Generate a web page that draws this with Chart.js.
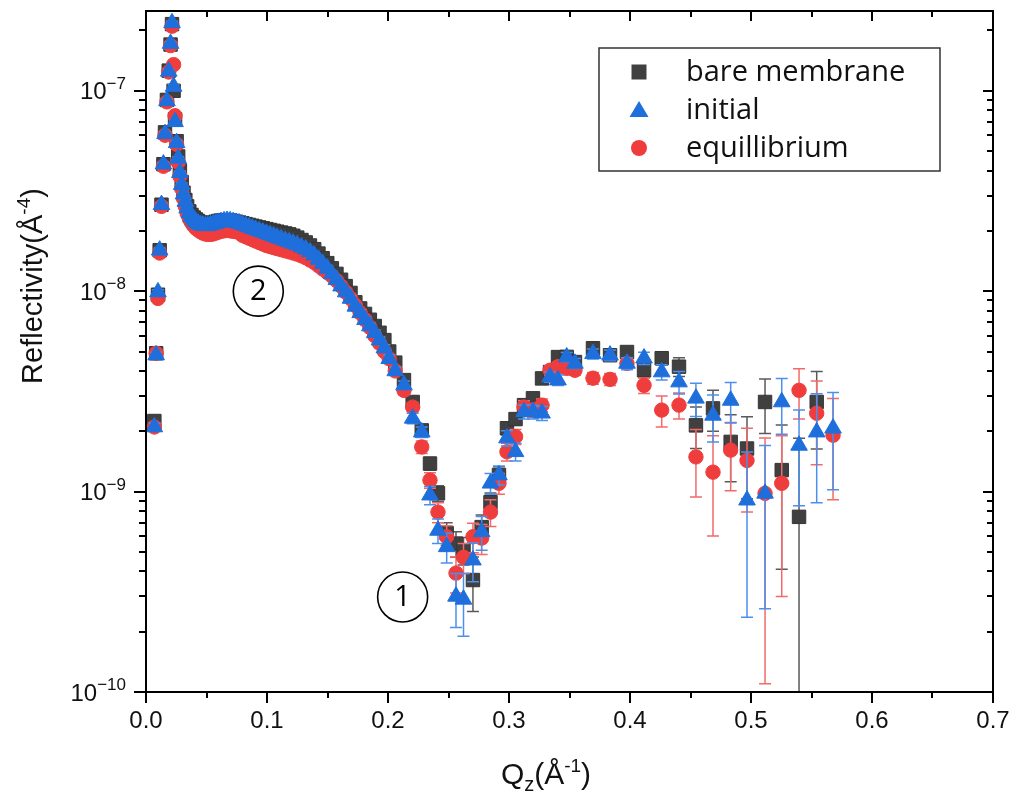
<!DOCTYPE html>
<html>
<head>
<meta charset="utf-8">
<title>Reflectivity</title>
<script src="https://cdn.jsdelivr.net/npm/chart.js@4/dist/chart.umd.min.js"></script>
<style>
  html, body { margin: 0; padding: 0; background: #ffffff; }
  #wrap { width: 1017px; height: 795px; }
</style>
</head>
<body>
<div id="wrap"><canvas id="chart" width="1017" height="795"></canvas></div>
<script>
// Momentum transfer Qz (Å^-1), shared by all three measurements
const qValues = [
  0.0069, 0.0084, 0.0099, 0.0113, 0.0128, 0.0144, 0.0157, 0.0173, 0.0188, 0.0203, 0.0215,
  0.0228, 0.0240, 0.0253, 0.0266, 0.0280, 0.0295, 0.0310, 0.0325, 0.0340,
  0.0358, 0.0376, 0.0394, 0.0412, 0.0430, 0.0450, 0.0470, 0.0490, 0.0510, 0.0532,
  0.0554, 0.0576, 0.0598, 0.0620, 0.0645, 0.0670, 0.0695, 0.0720, 0.0745, 0.0770,
  0.0797, 0.0824, 0.0851, 0.0878, 0.0905, 0.0935, 0.0965, 0.0995, 0.1025, 0.1055,
  0.1085, 0.1118, 0.1151, 0.1184, 0.1217, 0.1250,
  0.1285, 0.1320, 0.1355, 0.1390, 0.1425, 0.1460, 0.1498, 0.1536, 0.1574, 0.1612, 0.1650,
  0.1690, 0.1730, 0.1770, 0.1810, 0.1850, 0.1890, 0.1930, 0.1970, 0.2010, 0.2060,
  0.2132, 0.2204, 0.2279, 0.2347, 0.2413, 0.2485, 0.2562, 0.2624, 0.2702, 0.2774,
  0.2847, 0.2917, 0.2983, 0.3054, 0.3124, 0.3198, 0.3273, 0.3339, 0.3405, 0.3477, 0.3545,
  0.3694, 0.3835, 0.3975, 0.4116, 0.4262, 0.4405, 0.4545, 0.4686, 0.4832, 0.4967,
  0.5116, 0.5254, 0.5397, 0.5543, 0.5678
];

// Reflectivity and its uncertainty, in units of 1e-9 Å^-4
const bareMembrane = [
  2.25, 4.9, 9.6, 16, 27, 43, 62, 90, 126, 170, 215,
  100, 72, 56, 47, 40, 35, 31, 28.5, 26.5,
  25, 24, 23.3, 22.8, 22.4, 22.0, 21.8, 21.7, 21.7, 21.8,
  22.0, 22.2, 22.4, 22.5, 22.6, 22.6, 22.5, 22.4, 22.2, 22.0,
  21.8, 21.6, 21.4, 21.2, 21.0, 20.8, 20.6, 20.4, 20.2, 20.0,
  19.8, 19.6, 19.4, 19.2, 18.9, 18.5,
  18.0, 17.5, 16.9, 16.2, 15.4, 14.6, 13.8, 13.0, 12.2, 11.4, 10.6,
  9.8, 8.8, 8.2, 7.7, 7.2, 6.7, 6.2, 5.7, 5.0, 4.4,
  3.6, 2.8, 2.02, 1.38, 0.98, 0.62, 0.55, 0.51, 0.362, 0.665,
  0.885, 1.21, 2.07, 2.3, 2.7, 2.92, 3.67, 3.95, 4.69, 4.7, 4.43,
  5.19, 4.79, 4.97, 4.03, 4.63, 4.2, 2.14, 2.6, 1.77, 1.64,
  2.8, 1.28, 0.748, 2.8, null
];
const bareMembraneErr = [
  0.1, 0.15, 0.25, 0.4, 0.6, 0.9, 1.2, 1.8, 2.5, 3.4, 4.3,
  2.0, 1.5, 1.1, 0.9, 0.8, 0.7, 0.6, 0.6, 0.5,
  0.5, 0.5, 0.5, 0.5, 0.5, 0.5, 0.5, 0.5, 0.5, 0.5,
  0.5, 0.5, 0.5, 0.5, 0.5, 0.5, 0.5, 0.5, 0.5, 0.5,
  0.45, 0.45, 0.45, 0.45, 0.45, 0.45, 0.45, 0.45, 0.45, 0.45,
  0.45, 0.45, 0.45, 0.45, 0.45, 0.45,
  0.45, 0.45, 0.4, 0.4, 0.4, 0.35, 0.35, 0.35, 0.3, 0.3, 0.3,
  0.3, 0.25, 0.25, 0.25, 0.2, 0.2, 0.2, 0.2, 0.2, 0.18,
  0.16, 0.14, 0.12, 0.1, 0.09, 0.08, 0.08, 0.08, 0.11, 0.1,
  0.1, 0.12, 0.15, 0.15, 0.18, 0.18, 0.2, 0.22, 0.25, 0.25, 0.25,
  0.3, 0.3, 0.3, 0.32, 0.35, 0.45, 0.5, 0.6, 0.65, 0.72,
  0.85, 0.87, 1.1, 1.17, null
];

const initialState = [
  2.1, 4.8, 9.9, 16, 27, 43, 61, 89, 125, 172, 218,
  105, 70, 55, 46, 39, 34, 30.5, 28, 26,
  24.5, 23.5, 22.8, 22.2, 21.8, 21.5, 21.3, 21.2, 21.2, 21.4,
  21.6, 21.8, 22.0, 22.2, 22.4, 22.5, 22.4, 22.2, 22.0, 21.8,
  21.5, 21.2, 20.9, 20.6, 20.3, 20.0, 19.7, 19.4, 19.1, 18.8,
  18.5, 18.2, 17.9, 17.6, 17.3, 17.0,
  16.6, 16.2, 15.7, 15.1, 14.4, 13.7, 13.0, 12.2, 11.4, 10.6, 9.9,
  9.2, 8.4, 7.8, 7.2, 6.7, 6.2, 5.7, 5.2, 4.6, 4.0,
  3.4, 2.32, 1.98, 0.96, 0.64, 0.53, 0.30, 0.29, 0.455, 0.63,
  1.10, 1.21, 1.85, 1.58, 2.5, 2.5, 2.46, 3.73, 3.6, 4.69, 4.36,
  4.87, 4.79, 4.36, 4.63, 3.95, 3.52, 2.92, 2.4, 2.85, 0.906,
  0.98, 2.8, 1.7, 1.98, 2.07
];
const initialErr = [
  0.1, 0.15, 0.25, 0.4, 0.6, 0.9, 1.2, 1.8, 2.5, 3.4, 4.3,
  2.0, 1.5, 1.1, 0.9, 0.8, 0.7, 0.6, 0.6, 0.5,
  0.5, 0.5, 0.5, 0.5, 0.5, 0.5, 0.5, 0.5, 0.5, 0.5,
  0.5, 0.5, 0.5, 0.5, 0.5, 0.5, 0.5, 0.5, 0.5, 0.5,
  0.45, 0.45, 0.45, 0.45, 0.45, 0.45, 0.45, 0.45, 0.45, 0.45,
  0.45, 0.45, 0.45, 0.45, 0.45, 0.45,
  0.45, 0.45, 0.4, 0.4, 0.4, 0.35, 0.35, 0.35, 0.3, 0.3, 0.3,
  0.3, 0.25, 0.25, 0.25, 0.2, 0.2, 0.2, 0.2, 0.2, 0.18,
  0.16, 0.14, 0.12, 0.1, 0.09, 0.09, 0.09, 0.1, 0.1, 0.12,
  0.13, 0.13, 0.16, 0.16, 0.2, 0.2, 0.2, 0.22, 0.22, 0.25, 0.25,
  0.28, 0.3, 0.3, 0.32, 0.35, 0.45, 0.55, 0.63, 0.65, 0.67,
  0.72, 0.87, 0.85, 1.1, 1.05
];

const equilibriumState = [
  2.1, 4.9, 9.2, 15.5, 26.5, 42, 60, 88, 124, 168, 210,
  135, 75, 54, 44, 37.5, 32.5, 29, 26.5, 24.5,
  23, 22, 21.2, 20.6, 20.2, 19.8, 19.5, 19.3, 19.2, 19.2,
  19.3, 19.5, 19.7, 19.9, 20.0, 20.1, 20.0, 19.9, 19.8, 19.7,
  19.0, 18.7, 18.4, 18.1, 17.8, 17.5, 17.2, 16.9, 16.7, 16.5,
  16.3, 16.1, 15.9, 15.7, 15.5, 15.3,
  15.0, 14.7, 14.3, 13.9, 13.4, 12.9, 12.4, 11.9, 11.3, 10.6, 9.9,
  9.2, 8.5, 7.8, 7.2, 6.6, 6.0, 5.5, 5.0, 4.6, 4.0,
  3.2, 2.64, 1.67, 1.14, 0.79, 0.595, 0.392, 0.47, 0.595, 0.586,
  0.79, 1.10, 1.58, 1.88, 2.64, 2.55, 2.7, 4.03, 4.2, 4.12, 4.03,
  3.68, 3.63, 4.36, 3.39, 2.55, 2.7, 1.49, 1.25, 1.61, 1.43,
  0.98, 1.1, 3.2, 2.46, 1.91
];
const equilibriumErr = [
  0.1, 0.15, 0.25, 0.4, 0.6, 0.9, 1.2, 1.8, 2.5, 3.4, 4.3,
  2.0, 1.5, 1.1, 0.9, 0.8, 0.7, 0.6, 0.6, 0.5,
  0.5, 0.5, 0.5, 0.5, 0.5, 0.5, 0.5, 0.5, 0.5, 0.5,
  0.5, 0.5, 0.5, 0.5, 0.5, 0.5, 0.5, 0.5, 0.5, 0.5,
  0.45, 0.45, 0.45, 0.45, 0.45, 0.45, 0.45, 0.45, 0.45, 0.45,
  0.45, 0.45, 0.45, 0.45, 0.45, 0.45,
  0.45, 0.45, 0.4, 0.4, 0.4, 0.35, 0.35, 0.35, 0.3, 0.3, 0.3,
  0.3, 0.25, 0.25, 0.25, 0.2, 0.2, 0.2, 0.2, 0.2, 0.18,
  0.16, 0.14, 0.12, 0.1, 0.09, 0.08, 0.08, 0.08, 0.1, 0.1,
  0.12, 0.13, 0.16, 0.16, 0.2, 0.2, 0.2, 0.22, 0.22, 0.22, 0.22,
  0.25, 0.25, 0.28, 0.3, 0.45, 0.4, 0.55, 0.65, 0.6, 0.64,
  0.87, 0.8, 0.9, 1.1, 1.0
];

const seriesNames = ['bare membrane', 'initial', 'equillibrium'];

// Axis ticks
const xTickValues = [0, 0.1, 0.2, 0.3, 0.4, 0.5, 0.6, 0.7];
const xTickLabels = ['0.0', '0.1', '0.2', '0.3', '0.4', '0.5', '0.6', '0.7'];
const yDecadeExponents = [-10, -9, -8, -7];
const yDecadeLabels = ['\u221210', '\u22129', '\u22128', '\u22127'];

// Circled region markers placed in data coordinates
const regionNotes = [
  { label: '2', q: 0.0928, r: 1.0e-8 },
  { label: '1', q: 0.2121, r: 2.98e-10 }
];

const UNIT = 1e-9;
const SANS = '"Liberation Sans", Arial, sans-serif';
const LEGEND_FONT = '"Open Sans", "Noto Sans", sans-serif';

function toPoints(values, errors) {
  const pts = [];
  qValues.forEach((q, i) => {
    if (values[i] == null) return;
    pts.push({ x: q, y: values[i] * UNIT, e: errors[i] * UNIT });
  });
  return pts;
}

// Vertical error bars with caps, drawn just before each dataset's symbols
const errorBarPlugin = {
  id: 'errorBars',
  beforeDatasetDraw(chart, args) {
    const ds = chart.data.datasets[args.index];
    const yScale = chart.scales.y;
    const a = chart.chartArea;
    const ctx = chart.ctx;
    ctx.save();
    ctx.beginPath();
    ctx.rect(a.left, a.top, a.right - a.left, a.bottom - a.top);
    ctx.clip();
    ctx.strokeStyle = ds.errorColor;
    ctx.lineWidth = 1.5;
    args.meta.data.forEach((el, i) => {
      const d = ds.data[i];
      const hi = yScale.getPixelForValue(d.y + d.e);
      const lowVal = d.y - d.e;
      const lo = lowVal > 0 ? yScale.getPixelForValue(lowVal) : a.bottom + 10;
      ctx.beginPath();
      ctx.moveTo(el.x, hi);
      ctx.lineTo(el.x, lo);
      ctx.moveTo(el.x - 6, hi);
      ctx.lineTo(el.x + 6, hi);
      if (lowVal > 0) {
        ctx.moveTo(el.x - 6, lo);
        ctx.lineTo(el.x + 6, lo);
      }
      ctx.stroke();
    });
    ctx.restore();
  }
};

function drawRich(ctx, parts, x, y, align) {
  let w = 0;
  parts.forEach(p => {
    ctx.font = p.size + 'px ' + (p.family || SANS);
    w += ctx.measureText(p.t).width;
  });
  let cx = align === 'right' ? x - w : (align === 'center' ? x - w / 2 : x);
  ctx.textAlign = 'left';
  ctx.textBaseline = 'alphabetic';
  parts.forEach(p => {
    ctx.font = p.size + 'px ' + (p.family || SANS);
    ctx.fillText(p.t, cx, y + (p.dy || 0));
    cx += ctx.measureText(p.t).width;
  });
}

// Boxed frame, ticks, labels, titles, legend and circled notes
const framePlugin = {
  id: 'frame',
  afterDraw(chart) {
    const ctx = chart.ctx;
    const a = chart.chartArea;
    const xs = chart.scales.x, ys = chart.scales.y;
    ctx.save();
    ctx.strokeStyle = '#000';
    ctx.fillStyle = '#000';
    ctx.lineWidth = 2;
    ctx.strokeRect(a.left, a.top, a.right - a.left, a.bottom - a.top);

    // x ticks: majors and midpoint minors
    const xMinor = [];
    for (let i = 0; i < xTickValues.length - 1; i++) xMinor.push((xTickValues[i] + xTickValues[i + 1]) / 2);
    ctx.beginPath();
    xTickValues.forEach(v => {
      const px = Math.round(xs.getPixelForValue(v));
      ctx.moveTo(px, a.bottom); ctx.lineTo(px, a.bottom + 11);
      ctx.moveTo(px, a.top); ctx.lineTo(px, a.top + 10);
    });
    xMinor.forEach(v => {
      const px = Math.round(xs.getPixelForValue(v));
      ctx.moveTo(px, a.bottom); ctx.lineTo(px, a.bottom + 6);
      ctx.moveTo(px, a.top); ctx.lineTo(px, a.top + 6);
    });
    // y ticks: decades and 2..9 minors
    yDecadeExponents.forEach(n => {
      const py = Math.round(ys.getPixelForValue(Math.pow(10, n)));
      ctx.moveTo(a.left - 12, py); ctx.lineTo(a.left, py);
      ctx.moveTo(a.right, py); ctx.lineTo(a.right - 10, py);
      for (let k = 2; k <= 9; k++) {
        const v = k * Math.pow(10, n);
        if (v > ys.max) break;
        const pm = Math.round(ys.getPixelForValue(v));
        ctx.moveTo(a.left - 7, pm); ctx.lineTo(a.left, pm);
        ctx.moveTo(a.right, pm); ctx.lineTo(a.right - 6, pm);
      }
    });
    ctx.stroke();

    // tick labels
    ctx.fillStyle = '#111';
    xTickValues.forEach((v, i) => {
      drawRich(ctx, [{ t: xTickLabels[i], size: 24 }], xs.getPixelForValue(v), a.bottom + 36, 'center');
    });
    yDecadeExponents.forEach((n, i) => {
      const py = ys.getPixelForValue(Math.pow(10, n));
      drawRich(ctx, [
        { t: '10', size: 24, dy: 8.5 },
        { t: yDecadeLabels[i], size: 17, dy: -2 }
      ], a.left - 20, py, 'right');
    });

    // axis titles
    drawRich(ctx, [
      { t: 'Q', size: 30 },
      { t: 'z', size: 20, dy: 7 },
      { t: '(\u00c5', size: 30 },
      { t: '-1', size: 19, dy: -12 },
      { t: ')', size: 30 }
    ], 546, 784, 'center');
    ctx.save();
    ctx.translate(42, 286);
    ctx.rotate(-Math.PI / 2);
    drawRich(ctx, [
      { t: 'Reflectivity(\u00c5', size: 29 },
      { t: '-4', size: 19, dy: -12 },
      { t: ')', size: 29 }
    ], 0, 0, 'center');
    ctx.restore();

    // circled region notes
    regionNotes.forEach(n => {
      const cx = xs.getPixelForValue(n.q), cy = ys.getPixelForValue(n.r);
      ctx.beginPath();
      ctx.lineWidth = 1.6;
      ctx.strokeStyle = '#000';
      ctx.arc(cx, cy, 25, 0, Math.PI * 2);
      ctx.stroke();
      ctx.fillStyle = '#000';
      ctx.font = '29px ' + LEGEND_FONT;
      ctx.textAlign = 'center';
      ctx.textBaseline = 'middle';
      ctx.fillText(n.label, cx, cy + 1);
    });

    // legend
    const box = { left: 599, top: 48, right: 940, bottom: 171 };
    ctx.lineWidth = 1.5;
    ctx.strokeStyle = '#333';
    ctx.strokeRect(box.left, box.top, box.right - box.left, box.bottom - box.top);
    const rowY = [72, 110, 148];
    chart.data.datasets.forEach((ds, i) => {
      const mx = 639, my = rowY[i];
      ctx.fillStyle = ds.backgroundColor;
      ctx.beginPath();
      if (ds.pointStyle === 'rect') {
        ctx.rect(mx - 7.5, my - 7.5, 15, 15);
      } else if (ds.pointStyle === 'triangle') {
        ctx.moveTo(mx, my - 9); ctx.lineTo(mx + 9.5, my + 7); ctx.lineTo(mx - 9.5, my + 7); ctx.closePath();
      } else {
        ctx.arc(mx, my, 8, 0, Math.PI * 2);
      }
      ctx.fill();
      ctx.fillStyle = '#111';
      ctx.font = '29px ' + LEGEND_FONT;
      ctx.textAlign = 'left';
      ctx.textBaseline = 'alphabetic';
      ctx.fillText(ds.label, 686, my + 9);
    });
    ctx.restore();
  }
};

new Chart(document.getElementById('chart'), {
  type: 'scatter',
  data: {
    datasets: [
      {
        label: seriesNames[0],
        data: toPoints(bareMembrane, bareMembraneErr),
        pointStyle: 'rect', pointRadius: 9.5,
        backgroundColor: '#404040', borderColor: '#363636', borderWidth: 1,
        errorColor: '#5a5a5a', order: 3
      },
      {
        label: seriesNames[1],
        data: toPoints(initialState, initialErr),
        pointStyle: 'triangle', pointRadius: 9.6,
        backgroundColor: '#1e6fdc', borderColor: '#1e6fdc', borderWidth: 1,
        errorColor: '#4b90ee', order: 1
      },
      {
        label: seriesNames[2],
        data: toPoints(equilibriumState, equilibriumErr),
        pointStyle: 'circle', pointRadius: 7.2,
        backgroundColor: '#ef3c3c', borderColor: '#ef3c3c', borderWidth: 1,
        errorColor: '#f26a6a', order: 2
      }
    ]
  },
  options: {
    responsive: false,
    animation: false,
    devicePixelRatio: 1,
    events: [],
    layout: { padding: { top: 11, right: 24, bottom: 0, left: 0 } },
    plugins: { legend: { display: false }, tooltip: { enabled: false } },
    scales: {
      x: {
        type: 'linear', min: 0, max: 0.7,
        grid: { display: false }, border: { display: false },
        ticks: { display: false },
        afterFit(scale) { scale.height = 103; }
      },
      y: {
        type: 'logarithmic', min: 1e-10, max: 2.5e-7,
        grid: { display: false }, border: { display: false },
        ticks: { display: false },
        afterFit(scale) { scale.width = 146; }
      }
    }
  },
  plugins: [errorBarPlugin, framePlugin]
});
</script>
</body>
</html>
